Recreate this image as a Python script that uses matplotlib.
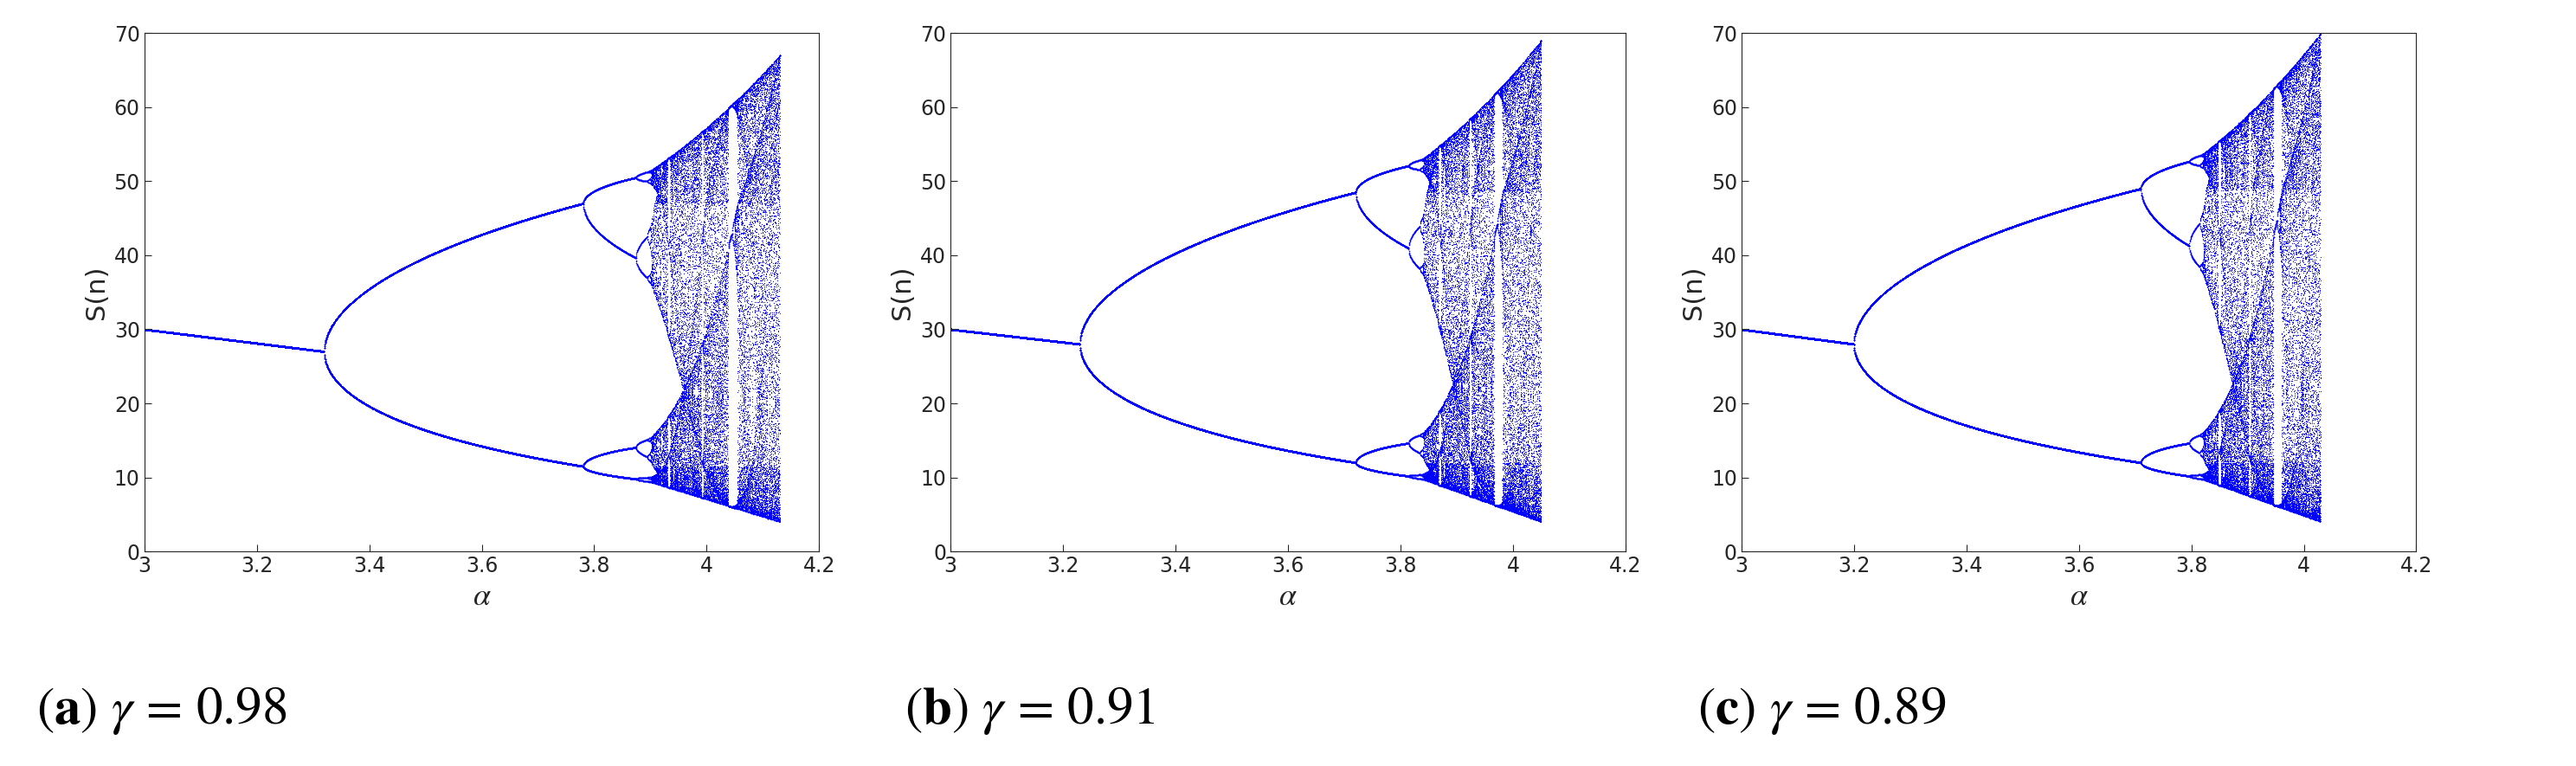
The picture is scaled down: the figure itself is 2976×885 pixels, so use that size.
import numpy as np
import matplotlib
matplotlib.use("Agg")
import matplotlib.pyplot as plt

plt.rcParams["mathtext.fontset"] = "stix"

labels = ["a", "b", "c"]
gammas = ["0.98", "0.91", "0.89"]
# alpha knots: start, first doubling, second doubling, onset of chaos, end
alpha_knots = [[3.0, 3.32, 3.78, 3.90, 4.13],
               [3.0, 3.23, 3.72, 3.84, 4.05],
               [3.0, 3.20, 3.71, 3.82, 4.03]]
s_start = [30, 30, 30]
s_fork = [27, 28, 28]
s_upper = [47, 48.5, 49]
s_lower = [11.5, 12, 12]
s_min = [4, 4, 4]
s_max = [67, 69, 70]

r_knots = [2.7, 3.0, 3.449, 3.57, 4.0]

fig = plt.figure(figsize=(29.76, 8.85), dpi=100)
lefts = [0.056, 0.369, 0.676]
cap_x = [0.014, 0.351, 0.659]
for i in range(3):
    ax = fig.add_axes([lefts[i], 0.28, 0.262, 0.677])
    ak = alpha_knots[i]
    alphas = np.linspace(ak[0], ak[-1], 2500)
    r = np.interp(alphas, ak, r_knots)
    x = np.full_like(r, 0.5)
    for _ in range(3000):
        x = r * x * (1 - x)
    xs = []
    for _ in range(70):
        x = r * x * (1 - x)
        xs.append(x.copy())
    xs = np.array(xs)
    xk = [0.0, 0.44, 0.6667, 0.85, 1.0]
    sk = [s_max[i], s_upper[i], s_fork[i], s_lower[i], s_min[i]]
    S = np.interp(xs, xk, sk)
    pre = alphas < ak[1]
    S[:, pre] = np.interp(alphas[pre], [ak[0], ak[1]], [s_start[i], s_fork[i]])
    A = np.broadcast_to(alphas, S.shape)
    ax.scatter(A.ravel(), S.ravel(), s=0.7, c="#0000ff", linewidths=0, marker="o")
    ax.set_xlim(3, 4.2)
    ax.set_ylim(0, 70)
    ax.set_xticks([3, 3.2, 3.4, 3.6, 3.8, 4, 4.2])
    ax.set_xticklabels(["3", "3.2", "3.4", "3.6", "3.8", "4", "4.2"])
    ax.set_yticks(range(0, 71, 10))
    ax.tick_params(labelsize=17, direction="in", length=6, color="#262626", labelcolor="#262626")
    for sp in ax.spines.values():
        sp.set_color("#262626")
    ax.set_xlabel(r"$\alpha$", fontsize=26, color="#262626")
    ax.set_ylabel("S(n)", fontsize=22, color="#262626")
    fig.text(cap_x[i], 0.055, r"($\mathbf{%s}$) $\gamma$ = %s" % (labels[i], gammas[i]),
             fontsize=44, family="STIXGeneral")

fig.savefig("out.png", dpi=100)
